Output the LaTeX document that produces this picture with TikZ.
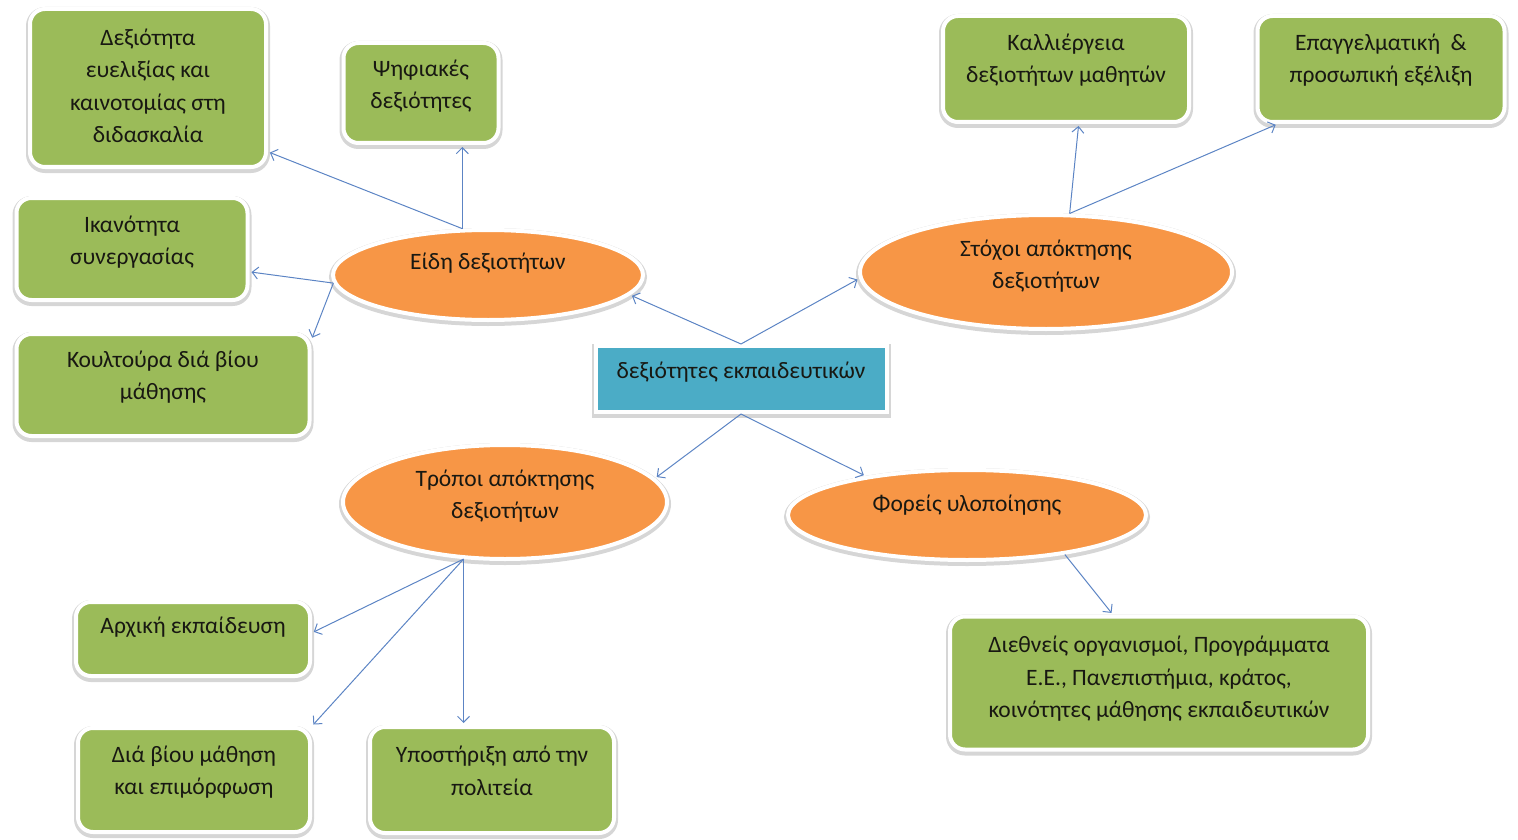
\documentclass[tikz,border=0pt]{standalone}
\usepackage{fontspec}
\setmainfont{Carlito}
\usetikzlibrary{shapes.geometric,arrows.meta}

\definecolor{leaf}{RGB}{155,187,89}
\definecolor{peach}{RGB}{247,150,70}
\definecolor{aqua}{RGB}{75,172,198}
\definecolor{linkblue}{RGB}{92,132,196}
\definecolor{ink}{RGB}{24,24,18}

\tikzset{
  halo/.style={preaction={draw=black!16, line width=8pt, transform canvas={yshift=-2pt}}},
  leafbox/.style={rectangle, rounded corners=15pt, fill=leaf, draw=white, line width=4pt, halo, inner sep=0pt},
  hubbox/.style={rectangle, fill=aqua, draw=white, line width=4pt, halo, inner sep=0pt},
  oval/.style={ellipse, fill=peach, draw=white, line width=4pt, halo, inner sep=0pt},
  txt/.style={font=\fontsize{23.5}{32.5}\selectfont, text=ink, align=center, inner sep=0pt},
  conn/.style={draw=linkblue, line width=1pt, shorten >=2pt, -{Straight Barb[length=6pt,width=12pt]}}
}

\begin{document}
\begin{tikzpicture}[x=1pt,y=-1pt]
\useasboundingbox (0,0) rectangle (1518,840);

% central topic
\node[hubbox, minimum width=291, minimum height=66,
  label={[txt,yshift=7pt]center:δεξιότητες εκπαιδευτικών}] (hub) at (741,379) {};

% main branches
\node[oval, minimum width=310, minimum height=90,
  label={[txt,yshift=12pt]center:Είδη δεξιοτήτων}] (kinds) at (488,275) {};
\node[oval, minimum width=372, minimum height=114,
  label={[txt,yshift=6pt]center:Στόχοι απόκτησης\\δεξιοτήτων}] (goals) at (1046,272) {};
\node[oval, minimum width=324, minimum height=114,
  label={[txt,yshift=6pt]center:Τρόποι απόκτησης\\δεξιοτήτων}] (ways) at (505,502) {};
\node[oval, minimum width=358, minimum height=90,
  label={[txt,yshift=10pt]center:Φορείς υλοποίησης}] (bodies) at (967,515) {};

% leaves
\node[leafbox, minimum width=236, minimum height=158,
  label={[txt,yshift=2pt]center:Δεξιότητα\\ευελιξίας και\\καινοτομίας στη\\διδασκαλία}] (flex) at (148,88) {};
\node[leafbox, minimum width=155, minimum height=100,
  label={[txt,yshift=7pt]center:Ψηφιακές\\δεξιότητες}] (digital) at (421,93) {};
\node[leafbox, minimum width=231, minimum height=102,
  label={[txt,yshift=7pt]center:Ικανότητα\\συνεργασίας}] (coop) at (132,249) {};
\node[leafbox, minimum width=293, minimum height=102,
  label={[txt,yshift=8pt]center:Κουλτούρα διά βίου\\μάθησης}] (culture) at (163,385) {};
\node[leafbox, minimum width=246, minimum height=106,
  label={[txt,yshift=9pt]center:Καλλιέργεια\\δεξιοτήτων μαθητών}] (nurture) at (1066,69) {};
\node[leafbox, minimum width=247, minimum height=106,
  label={[txt,yshift=9pt]center:Επαγγελματική \ \&\\προσωπική εξέλιξη}] (growth) at (1381,69) {};
\node[leafbox, minimum width=234, minimum height=74,
  label={[txt,yshift=12pt]center:Αρχική εκπαίδευση}] (initial) at (193,639) {};
\node[leafbox, minimum width=232, minimum height=104,
  label={[txt,yshift=8pt]center:Διά βίου μάθηση\\και επιμόρφωση}] (lifelong) at (194,780) {};
\node[leafbox, minimum width=244, minimum height=106,
  label={[txt,yshift=9pt]center:Υποστήριξη από την\\πολιτεία}] (state) at (492,780) {};
\node[leafbox, minimum width=418, minimum height=133,
  label={[txt,yshift=4pt]center:Διεθνείς οργανισμοί, Προγράμματα\\Ε.Ε., Πανεπιστήμια, κράτος,\\κοινότητες μάθησης εκπαιδευτικών}] (intl) at (1159,683) {};

% connectors from the central topic
\draw[conn] (hub.north) -- (kinds.352);
\draw[conn] (hub.north) -- (goals.182);
\draw[conn] (hub.south) -- (ways.9);
\draw[conn] (hub.south) -- (bodies.159);

% kinds of skills
\draw[conn] (kinds.119) -- (kinds.119 |- digital.south);
\draw[conn] (kinds.119) -- (flex.-28);
\draw[conn] (kinds.183) -- (coop.-11);
\draw[conn] (kinds.183) -- (culture.17);

% goals
\draw[conn] (goals.68) -- (nurture.-77);
\draw[conn] (goals.68) -- (growth.208.5);

% ways of acquiring
\draw[conn] (ways.234) -- (initial.3);
\draw[conn] (ways.234) -- (lifelong.north east);
\draw[conn] (ways.234) -- (ways.234 |- state.north);

% implementing bodies
\draw[conn] (bodies.338) -- (intl.124);
\end{tikzpicture}
\end{document}
